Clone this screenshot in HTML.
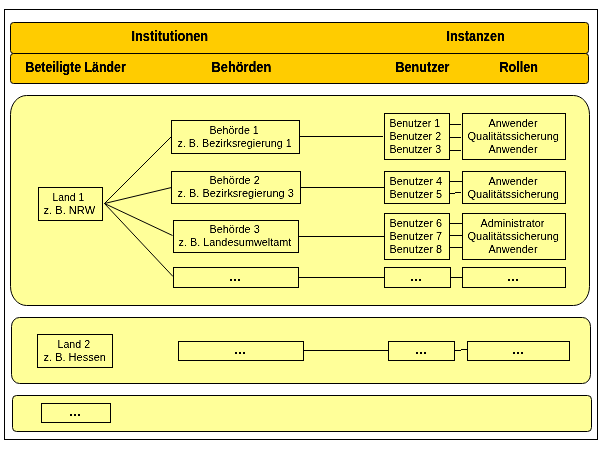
<!DOCTYPE html>
<html>
<head>
<meta charset="utf-8">
<style>
html,body{margin:0;padding:0;background:#fff;}
body{width:600px;height:450px;overflow:hidden;}
svg{display:block;}
text{font-family:"Liberation Sans",sans-serif;fill:#000;}
.h{font-weight:bold;font-size:13px;}
.t{font-size:11px;}
</style>
</head>
<body>
<svg width="600" height="450" viewBox="0 0 600 450">
<rect x="0" y="0" width="600" height="450" fill="#fff"/>
<g shape-rendering="crispEdges" stroke="#000" stroke-width="1">
<rect x="4.5" y="9.5" width="593" height="430" fill="#fff"/>
</g>
<g stroke="#000" stroke-width="1">
<rect x="10.5" y="22.5" width="578" height="31" rx="3" ry="3" fill="#ffcc00"/>
<rect x="10.5" y="53.5" width="578" height="30" rx="3" ry="3" fill="#ffcc00"/>
<rect x="10.5" y="95.5" width="579" height="210" rx="16" ry="19" fill="#ffff99"/>
<rect x="11.5" y="317.5" width="579" height="66" rx="8" ry="9" fill="#ffff99"/>
<rect x="12.5" y="395.5" width="579" height="36" rx="4" ry="4" fill="#ffff99"/>
</g>
<g shape-rendering="crispEdges" stroke="#000" stroke-width="1" fill="none">
<rect x="38.5" y="187.5" width="64" height="33"/>
<rect x="37.5" y="334.5" width="75" height="33"/>
<rect x="41.5" y="403.5" width="69" height="19"/>
<rect x="171.5" y="120.5" width="128" height="33"/>
<rect x="171.5" y="171.5" width="129" height="32"/>
<rect x="173.5" y="220.5" width="125" height="32"/>
<rect x="173.5" y="267.5" width="125" height="20"/>
<rect x="178.5" y="341.5" width="125" height="19"/>
<rect x="384.5" y="113.5" width="65" height="46"/>
<rect x="384.5" y="171.5" width="65" height="32"/>
<rect x="384.5" y="213.5" width="65" height="46"/>
<rect x="384.5" y="267.5" width="66" height="20"/>
<rect x="388.5" y="341.5" width="66" height="19"/>
<rect x="462.5" y="113.5" width="103" height="46"/>
<rect x="462.5" y="171.5" width="103" height="32"/>
<rect x="462.5" y="213.5" width="103" height="46"/>
<rect x="462.5" y="267.5" width="103" height="20"/>
<rect x="467.5" y="341.5" width="102" height="19"/>
<path d="M300 136.5H383 M301 187.5H384 M299 236.5H384 M299 277.5H384 M304 350.5H388"/>
<path d="M450 124.5H461 M450 137.5H461 M450 150.5H461"/>
<path d="M450 181.5H462 M450 193.5H455 M455 192.5H461"/>
<path d="M450 223.5H462 M450 235.5H462 M450 247.5H462"/>
<path d="M451 277.5H462"/>
<path d="M455 350.5H461 M461 349.5H467"/>
</g>
<g stroke="#000" stroke-width="1" fill="none">
<path d="M104.5 203.5L171.5 136.5 M104.5 203.5L171.5 187.5 M104.5 203.5L172.5 235.5 M104.5 203.5L173 276.5"/>
</g>
<g shape-rendering="crispEdges" fill="#000" stroke="none">
<path d="M70 414h2v2h-2z M74 414h2v2h-2z M78 414h2v2h-2z"/>
<path d="M230 279h2v2h-2z M234 279h2v2h-2z M238 279h2v2h-2z"/>
<path d="M411 279h2v2h-2z M415 279h2v2h-2z M419 279h2v2h-2z"/>
<path d="M508 279h2v2h-2z M512 279h2v2h-2z M516 279h2v2h-2z"/>
<path d="M235 352h2v2h-2z M239 352h2v2h-2z M243 352h2v2h-2z"/>
<path d="M416 352h2v2h-2z M420 352h2v2h-2z M424 352h2v2h-2z"/>
<path d="M513 352h2v2h-2z M517 352h2v2h-2z M521 352h2v2h-2z"/>
</g>
<defs>
<filter id="fh" x="0" y="0" width="600" height="450" filterUnits="userSpaceOnUse" color-interpolation-filters="sRGB"><feComponentTransfer><feFuncA type="linear" slope="1.8" intercept="-0.15"/></feComponentTransfer></filter>
<filter id="ft" x="0" y="0" width="600" height="450" filterUnits="userSpaceOnUse" color-interpolation-filters="sRGB"><feComponentTransfer><feFuncA type="linear" slope="1.6" intercept="-0.25"/></feComponentTransfer></filter>
</defs>
<g filter="url(#fh)">
<text class="h" transform="translate(131.50 41) scale(0.9832 1.080)">Institutionen</text>
<text class="h" transform="translate(446.50 41) scale(0.9700 1.080)">Instanzen</text>
<text class="h" transform="translate(25.50 72) scale(0.9508 1.080)">Beteiligte Länder</text>
<text class="h" transform="translate(211.50 72) scale(0.9869 1.080)">Behörden</text>
<text class="h" transform="translate(395.50 72) scale(0.9700 1.080)">Benutzer</text>
<text class="h" transform="translate(499.50 72) scale(0.9721 1.080)">Rollen</text>
</g>
<g filter="url(#ft)">
<text class="t" transform="translate(52.50 201) scale(0.9411 1.000)">Land 1</text>
<text class="t" transform="translate(43.50 214) scale(1.0102 1.000)">z. B. NRW</text>
<text class="t" transform="translate(57.50 348) scale(0.9700 1.000)">Land 2</text>
<text class="t" transform="translate(43.50 361) scale(1.0033 1.000)">z. B. Hessen</text>
<text class="t" transform="translate(209.50 134) scale(0.9700 1.000)">Behörde 1</text>
<text class="t" transform="translate(177.50 147) scale(0.9787 1.000)">z. B. Bezirksregierung 1</text>
<text class="t" transform="translate(209.50 184) scale(0.9905 1.000)">Behörde 2</text>
<text class="t" transform="translate(177.50 197) scale(0.9961 1.000)">z. B. Bezirksregierung 3</text>
<text class="t" transform="translate(209.50 233) scale(0.9905 1.000)">Behörde 3</text>
<text class="t" transform="translate(178.50 246) scale(0.9877 1.000)">z. B. Landesumweltamt</text>
<text class="t" transform="translate(389.50 127) scale(0.9511 1.000)">Benutzer 1</text>
<text class="t" transform="translate(389.50 140) scale(0.9700 1.000)">Benutzer 2</text>
<text class="t" transform="translate(389.50 153) scale(0.9700 1.000)">Benutzer 3</text>
<text class="t" transform="translate(389.50 185) scale(0.9893 1.000)">Benutzer 4</text>
<text class="t" transform="translate(389.50 198) scale(0.9893 1.000)">Benutzer 5</text>
<text class="t" transform="translate(389.50 227) scale(0.9893 1.000)">Benutzer 6</text>
<text class="t" transform="translate(389.50 240) scale(0.9893 1.000)">Benutzer 7</text>
<text class="t" transform="translate(389.50 253) scale(0.9893 1.000)">Benutzer 8</text>
<text class="t" transform="translate(488.50 127) scale(0.9910 1.000)">Anwender</text>
<text class="t" transform="translate(467.50 140) scale(1.0037 1.000)">Qualitätssicherung</text>
<text class="t" transform="translate(488.50 153) scale(0.9910 1.000)">Anwender</text>
<text class="t" transform="translate(488.50 185) scale(0.9910 1.000)">Anwender</text>
<text class="t" transform="translate(467.50 198) scale(1.0037 1.000)">Qualitätssicherung</text>
<text class="t" transform="translate(480.50 227) scale(0.9858 1.000)">Administrator</text>
<text class="t" transform="translate(467.50 240) scale(1.0037 1.000)">Qualitätssicherung</text>
<text class="t" transform="translate(488.50 253) scale(0.9910 1.000)">Anwender</text>
</g>
</svg>
</body>
</html>
